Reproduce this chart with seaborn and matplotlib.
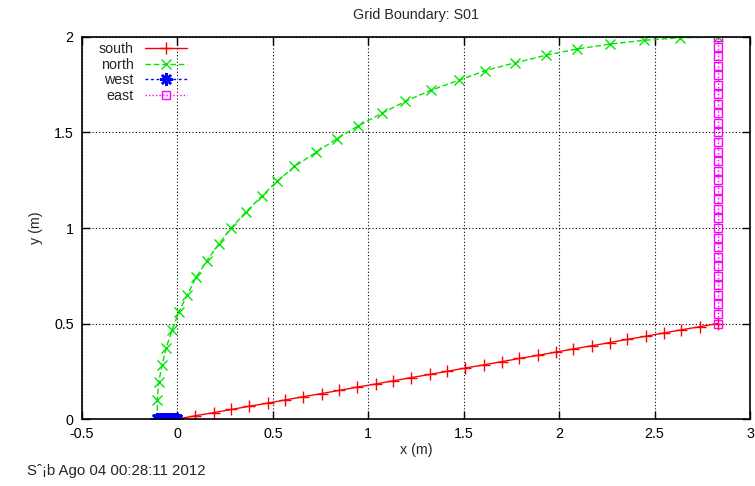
import matplotlib
matplotlib.use("Agg")
import matplotlib.pyplot as plt
import seaborn as sns
import pandas as pd

# ---- data ----
south_x = [0.0, 0.094, 0.189, 0.283, 0.377, 0.472, 0.566, 0.660, 0.755, 0.849, 0.943,
           1.038, 1.132, 1.226, 1.321, 1.415, 1.509, 1.604, 1.698, 1.792, 1.887,
           1.981, 2.075, 2.170, 2.264, 2.358, 2.453, 2.547, 2.641, 2.736, 2.830]
south_y = [0.0, 0.017, 0.033, 0.05, 0.067, 0.083, 0.1, 0.117, 0.133, 0.15, 0.167,
           0.183, 0.2, 0.217, 0.233, 0.25, 0.267, 0.283, 0.3, 0.317, 0.333,
           0.35, 0.367, 0.383, 0.4, 0.417, 0.433, 0.45, 0.467, 0.483, 0.5]

north_x = [-0.105, -0.106, -0.098, -0.080, -0.059, -0.028, 0.007, 0.051, 0.098, 0.155,
           0.216, 0.283, 0.360, 0.443, 0.524, 0.613, 0.726, 0.836, 0.946, 1.072,
           1.194, 1.328, 1.473, 1.613, 1.770, 1.930, 2.093, 2.267, 2.447, 2.634, 2.830]
north_y = [0.0, 0.099, 0.195, 0.283, 0.373, 0.466, 0.559, 0.649, 0.742, 0.829,
           0.915, 1.002, 1.085, 1.168, 1.246, 1.322, 1.396, 1.468, 1.534, 1.601,
           1.663, 1.721, 1.773, 1.824, 1.865, 1.904, 1.937, 1.963, 1.983, 1.996, 2.0]

west_x = [-0.105, -0.1015, -0.098, -0.0945, -0.091, -0.0875, -0.084, -0.0805, -0.077,
          -0.0735, -0.07, -0.0665, -0.063, -0.0595, -0.056, -0.0525, -0.049, -0.0455,
          -0.042, -0.0385, -0.035, -0.0315, -0.028, -0.0245, -0.021, -0.0175, -0.014,
          -0.0105, -0.007, -0.0035, 0.0]
west_y = [0.0] * 31

east_x = [2.83] * 31
east_y = [0.5, 0.55, 0.6, 0.65, 0.7, 0.75, 0.8, 0.85, 0.9, 0.95, 1.0, 1.05, 1.1, 1.15,
          1.2, 1.25, 1.3, 1.35, 1.4, 1.45, 1.5, 1.55, 1.6, 1.65, 1.7, 1.75, 1.8, 1.85,
          1.9, 1.95, 2.0]

x_ticks = [-0.5, 0, 0.5, 1, 1.5, 2, 2.5, 3]
x_tick_labels = ["-0.5", "0", "0.5", "1", "1.5", "2", "2.5", "3"]
y_ticks = [0, 0.5, 1, 1.5, 2]
y_tick_labels = ["0", "0.5", "1", "1.5", "2"]

title = "Grid Boundary: S01"
x_label = "x (m)"
y_label = "y (m)"
stamp = "S\u02c6\u00a1b Ago 04 00:28:11 2012"

# ---- style ----
sns.set_style("ticks")
plt.rcParams["font.family"] = ["Liberation Sans", "DejaVu Sans"]
FS = 10.3
plt.rcParams["font.size"] = FS

fig = plt.figure(figsize=(7.55, 4.86), dpi=100)
ax = fig.add_axes([82 / 755, 1 - 419 / 486, (750 - 82) / 755, (419 - 37) / 486])

series = [
    ("south", south_x, south_y, "#ff0000",
     dict(linestyle="-", marker="+", markersize=8, markeredgewidth=1.0)),
    ("north", north_x, north_y, "#00e600",
     dict(linestyle=(0, (4, 2)), marker="x", markersize=7, markeredgewidth=1.0)),
    ("west", west_x, west_y, "#0000ff",
     dict(linestyle=(0, (2, 2)), marker=(8, 2, 0), markersize=9, markeredgewidth=1.8)),
    ("east", east_x, east_y, "#ff00ff",
     dict(linestyle=(0, (1, 1.5)), marker="s", markersize=6, markeredgewidth=1.0,
          markerfacecolor="none")),
]

for name, xs, ys, col, kw in series:
    df = pd.DataFrame({"x": xs, "y": ys})
    n_before = len(ax.lines)
    sns.lineplot(data=df, x="x", y="y", ax=ax, estimator=None, sort=False,
                 color=col, linewidth=1.0, label=name, legend=False)
    line = ax.lines[n_before]
    line.set_color(col)
    line.set_markeredgecolor(col)
    for k, v in kw.items():
        line.set(**{k: v})

ax.set_xlim(-0.5, 3)
ax.set_ylim(0, 2)
ax.set_xticks(x_ticks)
ax.set_xticklabels(x_tick_labels)
ax.set_yticks(y_ticks)
ax.set_yticklabels(y_tick_labels)
ax.tick_params(axis="both", which="both", direction="in", length=6, width=1,
               top=True, right=True, labelsize=FS, colors="black", pad=6)
ax.grid(True, color="black", linestyle=(0, (1, 2)), linewidth=0.8)
for sp in ax.spines.values():
    sp.set_visible(True)
    sp.set_color("black")
    sp.set_linewidth(1.2)

ax.set_title(title, fontsize=FS, pad=13)
ax.set_xlabel(x_label, fontsize=FS, labelpad=1)
ax.set_ylabel(y_label, fontsize=FS, labelpad=8)

handles = ax.lines[:4]
leg = ax.legend(handles=handles, labels=[s[0] for s in series], loc="upper left",
                frameon=False, markerfirst=False,
                handlelength=2.9, handletextpad=0.8, labelspacing=0.1,
                borderaxespad=0.3, fontsize=FS, bbox_to_anchor=(0.01, 1.012))

fig.text(27 / 755, 1 - 471 / 486, stamp, fontsize=10.8, va="center", ha="left")

fig.savefig("out.png", dpi=100)
